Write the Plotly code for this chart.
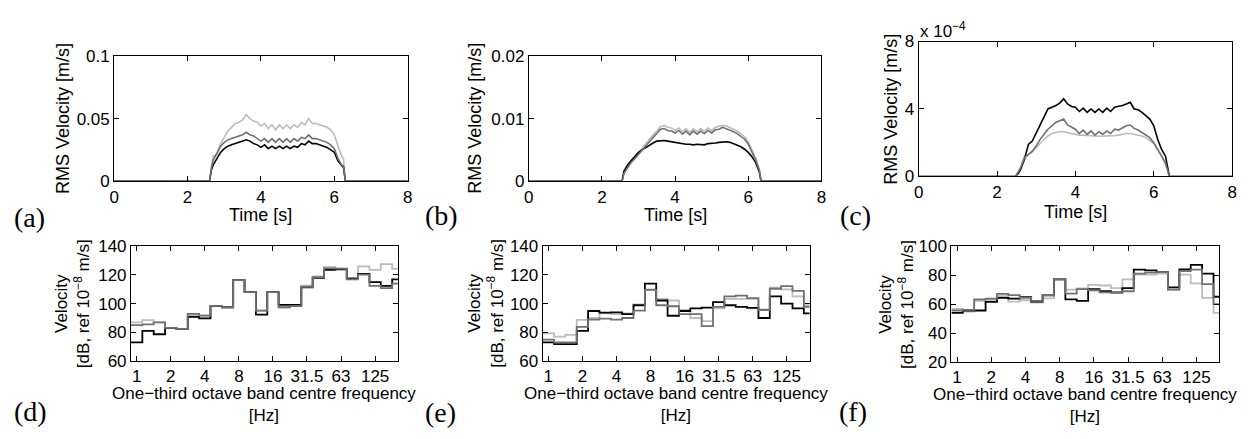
import plotly.graph_objects as go

W, H = 1252, 439

# ---------------- top row: RMS velocity time histories ----------------
t_a = [0, 2.6, 2.65, 2.7, 2.8, 2.9, 3.0, 3.1, 3.2, 3.3, 3.4, 3.5, 3.6, 3.7, 3.8, 3.9,
       4.0, 4.1, 4.2, 4.3, 4.4, 4.5, 4.6, 4.7, 4.8, 4.9, 5.0, 5.1, 5.2, 5.3, 5.4, 5.5,
       5.6, 5.7, 5.8, 5.9, 6.0, 6.1, 6.2, 6.25, 6.3, 8]
a_light = [0, 0, 0.012, 0.020, 0.022, 0.030, 0.035, 0.040, 0.043, 0.046, 0.047, 0.049,
           0.053, 0.050, 0.048, 0.047, 0.044, 0.046, 0.042, 0.045, 0.041, 0.045, 0.042,
           0.045, 0.042, 0.045, 0.043, 0.047, 0.045, 0.050, 0.046, 0.046, 0.045, 0.044,
           0.043, 0.041, 0.037, 0.028, 0.020, 0.018, 0, 0]
a_grey = [0, 0, 0.010, 0.017, 0.022, 0.028, 0.031, 0.033, 0.034, 0.035, 0.036, 0.037,
          0.039, 0.037, 0.036, 0.034, 0.032, 0.034, 0.031, 0.034, 0.031, 0.034, 0.031,
          0.034, 0.031, 0.034, 0.032, 0.035, 0.034, 0.037, 0.034, 0.034, 0.033, 0.032,
          0.031, 0.029, 0.026, 0.018, 0.013, 0.012, 0, 0]
a_black = [0, 0, 0.009, 0.013, 0.018, 0.023, 0.026, 0.028, 0.029, 0.030, 0.031, 0.032,
           0.033, 0.032, 0.030, 0.029, 0.027, 0.029, 0.026, 0.028, 0.026, 0.028, 0.026,
           0.028, 0.026, 0.028, 0.027, 0.030, 0.029, 0.032, 0.030, 0.030, 0.029, 0.028,
           0.027, 0.025, 0.023, 0.016, 0.012, 0.011, 0, 0]

t_b = [0, 2.5, 2.55, 2.6, 2.7, 2.8, 2.9, 3.0, 3.1, 3.2, 3.3, 3.4, 3.5, 3.6, 3.7, 3.8,
       3.9, 4.0, 4.1, 4.2, 4.3, 4.4, 4.5, 4.6, 4.7, 4.8, 4.9, 5.0, 5.1, 5.2, 5.3, 5.4,
       5.5, 5.6, 5.7, 5.8, 5.9, 6.0, 6.1, 6.2, 6.3, 6.35, 8]
b_light = [0, 0, 0, 0.0013, 0.0024, 0.0032, 0.0039, 0.0046, 0.0054, 0.0061, 0.0068,
           0.0074, 0.0080, 0.0087, 0.0089, 0.0086, 0.0085, 0.0081, 0.0085, 0.0079,
           0.0084, 0.0078, 0.0084, 0.0079, 0.0084, 0.0080, 0.0085, 0.0081, 0.0086,
           0.0087, 0.0089, 0.0088, 0.0086, 0.0083, 0.0080, 0.0076, 0.0071, 0.0063,
           0.0051, 0.0037, 0.0020, 0, 0]
b_grey = [0, 0, 0, 0.0012, 0.0022, 0.0030, 0.0036, 0.0043, 0.0050, 0.0056, 0.0063,
          0.0070, 0.0076, 0.0083, 0.0084, 0.0081, 0.0080, 0.0077, 0.0081, 0.0075,
          0.0080, 0.0074, 0.0080, 0.0075, 0.0080, 0.0076, 0.0081, 0.0077, 0.0082,
          0.0083, 0.0086, 0.0084, 0.0082, 0.0079, 0.0076, 0.0072, 0.0067, 0.0059,
          0.0047, 0.0034, 0.0018, 0, 0]
b_black = [0, 0, 0, 0.0016, 0.0026, 0.0033, 0.0040, 0.0046, 0.0050, 0.0054, 0.0058,
           0.0061, 0.0064, 0.0065, 0.0065, 0.0064, 0.0063, 0.0061, 0.0060, 0.0059,
           0.0059, 0.0059, 0.0058, 0.0059, 0.0059, 0.0058, 0.0060, 0.0060, 0.0061,
           0.0062, 0.0063, 0.0063, 0.0062, 0.0060, 0.0058, 0.0055, 0.0051, 0.0046,
           0.0039, 0.0030, 0.0015, 0, 0]

# panel (c) values are in units of 1e-4 m/s
t_c = [0, 2.47, 2.55, 2.6, 2.7, 2.8, 2.9, 3.0, 3.1, 3.2, 3.3, 3.4, 3.5, 3.6, 3.7, 3.8,
       3.9, 4.0, 4.1, 4.2, 4.3, 4.4, 4.5, 4.6, 4.7, 4.8, 4.9, 5.0, 5.1, 5.2, 5.3, 5.4,
       5.5, 5.6, 5.7, 5.8, 5.9, 6.0, 6.1, 6.2, 6.3, 6.4, 8]
c_black_e4 = [0, 0, 0.2, 0.4, 1.0, 1.9, 2.1, 2.6, 3.0, 3.6, 4.0, 4.1, 4.2, 4.35, 4.6,
              4.3, 4.15, 4.1, 3.85, 4.05, 3.8, 4.0, 3.8, 4.0, 3.8, 4.05, 3.85, 4.1,
              4.15, 4.2, 4.3, 4.4, 4.0, 3.95, 3.8, 3.6, 3.4, 3.0, 2.2, 1.6, 1.2, 0, 0]
c_grey_e4 = [0, 0, 0.3, 0.5, 1.1, 1.3, 1.5, 1.8, 2.2, 2.5, 2.8, 3.0, 3.2, 3.3, 3.4,
             3.05, 2.9, 2.8, 2.55, 2.75, 2.5, 2.7, 2.45, 2.65, 2.5, 2.7, 2.55, 2.8,
             2.75, 2.9, 3.0, 3.05, 2.85, 2.75, 2.6, 2.45, 2.3, 2.0, 1.6, 1.2, 0.8, 0, 0]
c_light_e4 = [0, 0, 0.3, 0.5, 1.2, 1.3, 1.45, 1.7, 2.0, 2.2, 2.4, 2.55, 2.6, 2.65, 2.65,
              2.6, 2.55, 2.5, 2.45, 2.45, 2.42, 2.4, 2.4, 2.38, 2.38, 2.4, 2.4, 2.42,
              2.45, 2.5, 2.55, 2.55, 2.5, 2.45, 2.4, 2.3, 2.15, 1.95, 1.6, 1.2, 0.7, 0, 0]

# ---------------- bottom row: one-third octave band spectra ----------------
bands = ['1', '1.25', '1.6', '2', '2.5', '3.15', '4', '5', '6.3', '8', '10', '12.5',
         '16', '20', '25', '31.5', '40', '50', '63', '80', '100', '125', '160', '200']
band_ticks = ['1', '2', '4', '8', '16', '31.5', '63', '125']

d_black = [73.0, 81.0, 78.7, 83.1, 82.4, 90.9, 89.8, 98.4, 97.5, 116.4, 108.0, 92.4,
           108.0, 99.1, 99.1, 111.3, 118.0, 123.5, 124.0, 117.5, 120.7, 115.0, 112.4, 116.9]
d_grey = [85.1, 85.6, 86.9, 83.1, 82.4, 92.9, 91.7, 98.4, 97.5, 116.4, 108.0, 95.1,
          108.0, 97.5, 98.3, 111.8, 118.5, 124.6, 124.4, 117.0, 120.2, 112.4, 110.9, 114.0]
d_light = [86.9, 88.5, 86.9, 83.1, 82.4, 92.9, 91.7, 98.4, 97.5, 116.4, 108.0, 95.1,
           108.0, 97.5, 98.3, 112.5, 119.0, 125.7, 124.4, 118.0, 126.0, 123.5, 127.5, 124.2]

e_black = [73.1, 71.8, 71.8, 81.1, 94.9, 93.8, 94.0, 92.7, 98.9, 114.0, 102.2, 91.6,
           94.9, 96.7, 97.3, 101.1, 98.9, 97.8, 97.1, 90.0, 105.1, 100.0, 96.7, 93.3]
e_grey = [74.9, 73.1, 73.1, 83.8, 88.9, 89.6, 88.9, 90.0, 95.1, 109.6, 98.9, 98.2,
          92.7, 92.7, 84.4, 97.8, 105.1, 105.6, 103.8, 95.6, 110.4, 112.2, 108.9, 97.8]
e_light = [79.3, 77.1, 78.2, 88.7, 90.0, 93.3, 92.7, 93.3, 99.5, 110.0, 103.3, 102.2,
           95.6, 90.0, 87.8, 96.7, 103.3, 103.3, 103.3, 96.0, 111.1, 110.0, 105.1, 98.9]

f_black = [54.0, 55.6, 55.6, 61.6, 64.4, 63.8, 64.9, 61.8, 66.0, 77.1, 63.3, 62.2,
           70.4, 68.9, 68.2, 71.1, 83.8, 83.3, 82.2, 71.6, 84.0, 87.1, 81.1, 65.1]
f_grey = [55.6, 56.0, 63.3, 63.8, 67.1, 66.2, 64.4, 62.2, 66.2, 77.1, 67.3, 70.4,
          69.6, 68.2, 67.8, 68.9, 81.1, 81.8, 82.2, 70.0, 82.9, 83.8, 73.8, 60.0]
f_light = [56.7, 54.9, 62.2, 62.9, 65.6, 61.8, 62.7, 61.1, 64.0, 77.1, 70.0, 70.9,
           73.3, 72.9, 71.1, 77.1, 80.4, 80.4, 81.1, 70.0, 80.4, 74.4, 64.4, 54.0]

# ---------------- styling ----------------
BLACK = 'rgb(0,0,0)'
GREY = 'rgb(112,112,112)'
LIGHT = 'rgb(188,188,188)'
SANS = 'Liberation Sans, Arial, Helvetica, sans-serif'
SERIF = 'Liberation Serif, Times New Roman, serif'

# panel boxes in pixels: left, right, top, bottom
boxes = {
    'a': (110, 406, 49, 180),
    'b': (528, 823, 49, 180),
    'c': (921, 1237, 34, 175),
    'd': (127, 396, 248, 368),
    'e': (542, 811, 248, 368),
    'f': (954, 1224, 248, 369),
}
order = ['a', 'b', 'c', 'd', 'e', 'f']


def px(x):
    return x / W


def py(y):
    return 1 - y / H


fig = go.Figure()


def add_line(i, x, y, color, width, shape='linear'):
    suffix = '' if i == 1 else str(i)
    fig.add_trace(go.Scatter(x=x, y=y, mode='lines', xaxis='x' + suffix, yaxis='y' + suffix,
                             line=dict(color=color, width=width, shape=shape),
                             showlegend=False, hoverinfo='skip'))


top_sets = [(t_a, a_light, a_black, a_grey), (t_b, b_light, b_black, b_grey),
            (t_c, c_light_e4, c_black_e4, c_grey_e4)]
for i, (t, lt, bk, gr) in enumerate(top_sets, start=1):
    add_line(i, t, lt, LIGHT, 1.6)
    add_line(i, t, bk, BLACK, 1.6)
    add_line(i, t, gr, GREY, 1.6)

edges = [k - 0.5 for k in range(len(bands) + 1)]
bot_sets = [(d_light, d_black, d_grey), (e_light, e_black, e_grey), (f_light, f_black, f_grey)]
for j, (lt, bk, gr) in enumerate(bot_sets, start=4):
    for vals, col in ((lt, LIGHT), (bk, BLACK), (gr, GREY)):
        add_line(j, edges, vals + [vals[-1]], col, 1.8, shape='hv')


def axis(**kw):
    d = dict(showline=True, linecolor='black', linewidth=1, mirror='ticks',
             ticks='inside', ticklen=5, tickwidth=1, tickcolor='black',
             showgrid=False, zeroline=False,
             tickfont=dict(family=SANS, size=17, color='black'))
    d.update(kw)
    return d


layout = dict(width=W, height=H, margin=dict(l=0, r=0, t=0, b=0),
              paper_bgcolor='white', plot_bgcolor='white', showlegend=False,
              font=dict(family=SANS, color='black'))

y_top = [dict(tickvals=[0, 0.05, 0.1], ticktext=['0', '0.05', '0.1'], range=[0, 0.1]),
         dict(tickvals=[0, 0.01, 0.02], ticktext=['0', '0.01', '0.02'], range=[0, 0.02]),
         dict(tickvals=[0, 4, 8], ticktext=['0', '4', '8'], range=[0, 8])]
y_bot = [dict(tickvals=[60, 80, 100, 120, 140], range=[60, 140]),
         dict(tickvals=[60, 80, 100, 120, 140], range=[60, 140]),
         dict(tickvals=[20, 40, 60, 80, 100], range=[20, 100])]
tick_pos = [bands.index(b) for b in band_ticks]

for n, key in enumerate(order, start=1):
    l, r, t, b = boxes[key]
    suffix = '' if n == 1 else str(n)
    if n <= 3:
        xa = axis(domain=[px(l), px(r)], range=[0, 8], tickvals=[0, 2, 4, 6, 8],
                  anchor='y' + suffix)
        ya = axis(domain=[py(b), py(t)], anchor='x' + suffix, **y_top[n - 1])
    else:
        xa = axis(domain=[px(l), px(r)], range=[-0.5, 23], tickvals=tick_pos,
                  ticktext=band_ticks, anchor='y' + suffix)
        ya = axis(domain=[py(b), py(t)], anchor='x' + suffix, **y_bot[n - 4])
    layout['xaxis' + suffix] = xa
    layout['yaxis' + suffix] = ya

fig.update_layout(**layout)

ann = []
# top row axis titles
for key, yoff, xt in (('a', 52, 35), ('b', 55, 35), ('c', 28, 37)):
    l, r, t, b = boxes[key]
    ann.append(dict(text='Time [s]', x=px((l + r) / 2), y=py(b + xt),
                    xref='paper', yref='paper', showarrow=False,
                    xanchor='center', yanchor='middle', font=dict(family=SANS, size=18)))
    ann.append(dict(text='RMS Velocity [m/s]', x=px(l - yoff), y=py((t + b) / 2),
                    xref='paper', yref='paper', showarrow=False, textangle=-90,
                    xanchor='center', yanchor='middle', font=dict(family=SANS, size=18)))
# exponent label of panel (c)
l, r, t, b = boxes['c']
ann.append(dict(text='x 10<sup>−4</sup>', x=px(l - 1), y=py(t - 12), xref='paper', yref='paper',
                showarrow=False, xanchor='left', yanchor='middle',
                font=dict(family=SANS, size=17)))
# bottom row axis titles
for key, yoff in (('d', 59), ('e', 57), ('f', 56)):
    l, r, t, b = boxes[key]
    ann.append(dict(text='One−third octave band centre frequency<br>[Hz]',
                    x=px((l + r) / 2), y=py(b + 45), xref='paper', yref='paper',
                    showarrow=False, xanchor='center', yanchor='middle',
                    font=dict(family=SANS, size=17)))
    ann.append(dict(text='Velocity<br>[dB, ref 10<sup>−8</sup> m/s]',
                    x=px(l - yoff), y=py((t + b) / 2), xref='paper', yref='paper',
                    showarrow=False, textangle=-90, xanchor='center', yanchor='middle',
                    font=dict(family=SANS, size=17)))
# panel letters
letters = [('(a)', 25, 218), ('(b)', 440, 216), ('(c)', 857, 216),
           ('(d)', 26, 421), ('(e)', 439, 422), ('(f)', 855, 421)]
for txt, x, y in letters:
    ann.append(dict(text=txt, x=px(x), y=py(y), xref='paper', yref='paper', showarrow=False,
                    xanchor='center', yanchor='middle', font=dict(family=SERIF, size=28)))

fig.update_layout(annotations=ann)
fig.write_html('out.html', config={'displayModeBar': False, 'staticPlot': True},
               post_script="document.body.style.margin='0px';document.body.style.overflow='hidden';")
